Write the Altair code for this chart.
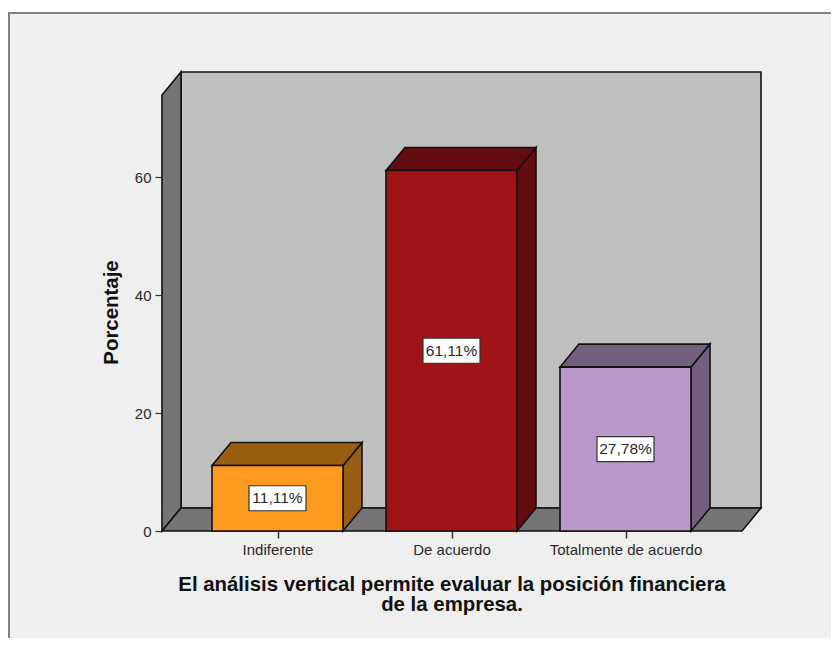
import altair as alt
import pandas as pd

categories = ["Indiferente", "De acuerdo", "Totalmente de acuerdo"]
values = [11.11, 61.11, 27.78]
labels = ["11,11%", "61,11%", "27,78%"]
front_colors = ["#fb9a1c", "#a01418", "#b899c9"]
side_colors = ["#995e12", "#640d10", "#74607e"]
y_ticks = [0, 20, 40, 60]

# Plot-area geometry, pixels per unit
PX_W, PX_H = 599, 459
UNIT_Y = 5.9
UNIT_X = 174.0
X_MIN = -115.5 / UNIT_X
X_MAX = X_MIN + PX_W / UNIT_X
Y_MAX = PX_H / UNIT_Y
DX = 19 / UNIT_X          # depth of the 3-D projection
DY = 23 / UNIT_Y
HALF = 65.5 / UNIT_X      # half of a bar's width
FRONT_R = X_MAX - DX
FRONT_T = Y_MAX - DY

x_scale = alt.Scale(domain=[X_MIN, X_MAX], nice=False, zero=False)
y_scale = alt.Scale(domain=[0, Y_MAX], nice=False, zero=False)
STROKE = "#111111"
SW = 1.6

label_expr = "[" + ",".join(f"'{c}'" for c in categories) + "][datum.value]"

x_axis = alt.Axis(
    values=[0, 1, 2], labelExpr=label_expr, domain=False, grid=False, tickSize=7, zindex=1,
    tickColor="#333333", tickWidth=1.5, labelFontSize=15, labelColor="#2a2a2a", labelFont="Liberation Sans",
    labelPadding=4, labelFlush=False,
    title=["El análisis vertical permite evaluar la posición financiera", "de la empresa."],
    titleFont="Liberation Sans", titleFontSize=20.4, titleFontWeight="bold", titleColor="#111111",
    titleX=289.5, titleY=59, titleLineHeight=20, titleBaseline="alphabetic",
)
y_axis = alt.Axis(
    values=y_ticks, domain=False, grid=False, tickSize=7, tickColor="#333333", tickWidth=1.2, zindex=1,
    labelFontSize=15, labelColor="#2a2a2a", labelFont="Liberation Sans", labelPadding=4,
    title="Porcentaje", titleFont="Liberation Sans", titleFontSize=20.4, titleFontWeight="bold",
    titleColor="#111111", titleX=-41, titleY=240,
)
xn = alt.X("x:Q", scale=x_scale, axis=x_axis)
yn = alt.Y("y:Q", scale=y_scale, axis=y_axis)

# Page panel behind the chart
frame = alt.Chart(pd.DataFrame({"a": [0]})).mark_rect(
    fill="#efefef", stroke="#808080", strokeWidth=2, clip=False
).encode(x=alt.value(-153), x2=alt.value(800), y=alt.value(-59), y2=alt.value(700))

# Back wall
wall = alt.Chart(pd.DataFrame({"x": [X_MIN + DX], "x2": [X_MAX], "y": [DY], "y2": [Y_MAX]})).mark_rect(
    fill="#c0c0c0", stroke=STROKE, strokeWidth=SW
).encode(x=xn, x2="x2:Q", y=yn, y2="y2:Q")

# Left wall (vertical-orient area)
left = alt.Chart(pd.DataFrame({
    "x": [X_MIN, X_MIN + DX], "y": [0, DY], "y2": [FRONT_T, Y_MAX],
})).mark_area(fill="#757575", stroke=STROKE, strokeWidth=SW, orient="vertical").encode(
    x=xn, y=yn, y2="y2:Q")

# Floor (horizontal-orient area)
floor = alt.Chart(pd.DataFrame({
    "y": [0, DY], "x": [X_MIN, X_MIN + DX], "x2": [FRONT_R, X_MAX],
})).mark_area(fill="#757575", stroke=STROKE, strokeWidth=SW, orient="horizontal").encode(
    x=xn, x2="x2:Q", y=yn)

side_rows, top_rows, front_rows, label_rows = [], [], [], []
for i, (c, v) in enumerate(zip(categories, values)):
    xr = i + HALF
    xl = i - HALF
    side_rows += [
        {"c": c, "x": xr, "y": 0, "y2": v, "fill": side_colors[i]},
        {"c": c, "x": xr + DX, "y": DY, "y2": v + DY, "fill": side_colors[i]},
    ]
    top_rows += [
        {"c": c, "y": v, "x": xl, "x2": xr, "fill": side_colors[i]},
        {"c": c, "y": v + DY, "x": xl + DX, "x2": xr + DX, "fill": side_colors[i]},
    ]
    front_rows.append({"c": c, "x": xl, "x2": xr, "y": 0, "y2": v, "fill": front_colors[i]})
    label_rows.append({"c": c, "x": i, "y": v / 2, "label": labels[i]})

fill = alt.Color("fill:N", scale=None, legend=None)
sides = alt.Chart(pd.DataFrame(side_rows)).mark_area(stroke=STROKE, strokeWidth=SW, orient="vertical").encode(
    x=xn, y=yn, y2="y2:Q", color=fill, detail="c:N")
tops = alt.Chart(pd.DataFrame(top_rows)).mark_area(stroke=STROKE, strokeWidth=SW, orient="horizontal").encode(
    x=xn, x2="x2:Q", y=yn, color=fill, detail="c:N")
fronts = alt.Chart(pd.DataFrame(front_rows)).mark_rect(stroke=STROKE, strokeWidth=SW).encode(
    x=xn, x2="x2:Q", y=yn, y2="y2:Q", color=fill)

boxes = alt.Chart(pd.DataFrame(label_rows)).mark_rect(
    width=57, height=25, fill="white", stroke="#333333", strokeWidth=1.2
).encode(x=xn, y=yn)
texts = alt.Chart(pd.DataFrame(label_rows)).mark_text(
    font="Liberation Sans", fontSize=15.5, color="#2a2a2a", baseline="middle", align="center"
).encode(x=xn, y=yn, text="label:N")

chart = alt.layer(frame, wall, left, floor, sides, tops, fronts, boxes, texts).properties(
    width=PX_W, height=PX_H,
    padding={"left": 154, "top": 64, "right": 70, "bottom": 107},
    autosize=alt.AutoSizeParams(type="none"),
    background="white",
).configure_view(stroke=None)

chart.save("out.html", embed_options={"renderer": "svg", "actions": False})
